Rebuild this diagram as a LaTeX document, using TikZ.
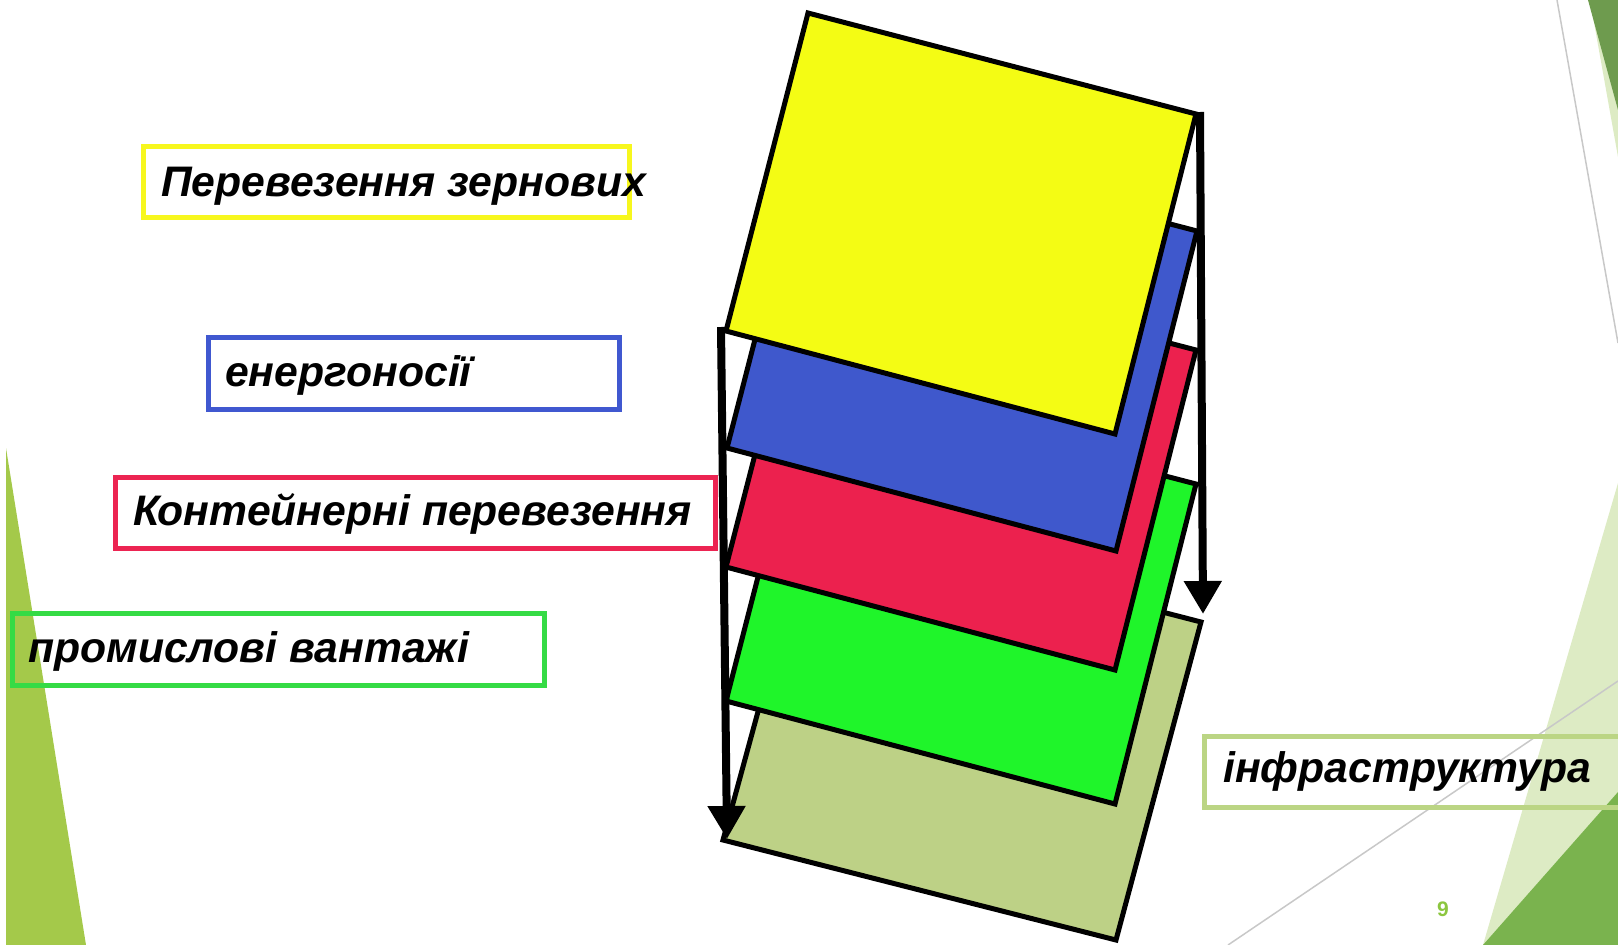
\documentclass[tikz,border=0pt]{standalone}
\usepackage{fontspec}
\setmainfont{Liberation Sans}
\usetikzlibrary{arrows.meta}
\definecolor{leftgreen}{HTML}{A4C94A}
\definecolor{palegreen}{HTML}{DDEBC4}
\definecolor{topdark}{HTML}{6E9B4E}
\definecolor{botdark}{HTML}{7AB34E}
\definecolor{linegray}{HTML}{C8C8C8}
\definecolor{pyellow}{HTML}{F4FC14}
\definecolor{pblue}{HTML}{3F58CC}
\definecolor{pred}{HTML}{EC214E}
\definecolor{pgreen}{HTML}{1FF52A}
\definecolor{polive}{HTML}{BDD186}
\definecolor{byellow}{HTML}{F7F71E}
\definecolor{bblue}{HTML}{4058D0}
\definecolor{bred}{HTML}{EC2452}
\definecolor{bgreen}{HTML}{35DB45}
\definecolor{bolive}{HTML}{BBD584}
\definecolor{pagenum}{HTML}{8CC63F}
\tikzset{
  plane/.style={draw=black, line width=5pt, line join=miter},
  labelbox/.style={draw=#1, line width=5pt, inner sep=0pt, anchor=north west},
  labeltext/.style={font=\fontsize{42.7}{50}\selectfont\bfseries\itshape, inner sep=0pt, anchor=base west},
  bigarrow/.style={line width=8pt, -{Triangle[width=36pt,length=33pt]}},
  grayline/.style={draw=linegray, line width=1.5pt}
}
\begin{document}
\begin{tikzpicture}[x=1pt,y=-1pt]
\useasboundingbox (0,0) rectangle (1618,945);
\clip (0,0) rectangle (1618,945);
% background decorations
\fill[leftgreen] (6,448) -- (86,945) -- (6,945) -- cycle;
\fill[palegreen] (1590,0) -- (1618,0) -- (1618,157) -- cycle;
\fill[topdark] (1588,0) -- (1618,0) -- (1618,110) -- cycle;
\draw[grayline] (1557,0) -- (1618,343);
\fill[palegreen] (1618,483) -- (1618,945) -- (1483,945) -- cycle;
\fill[botdark] (1483,945) -- (1618,945) -- (1618,792) -- cycle;
\draw[grayline] (1228,945) -- (1618,681);
% stacked planes (bottom to top)
\filldraw[plane, fill=polive] (810,521) -- (1201,622) -- (1116,940) -- (723,840) -- cycle;
\filldraw[plane, fill=pgreen] (808,383) -- (1196,484) -- (1115,804) -- (726,701) -- cycle;
\filldraw[plane, fill=pred] (808,249) -- (1196,350) -- (1115,670) -- (726,567) -- cycle;
\filldraw[plane, fill=pblue] (809,130) -- (1197,231) -- (1116,551) -- (727,448) -- cycle;
\filldraw[plane, fill=pyellow] (808,13) -- (1196,114) -- (1115,434) -- (726,331) -- cycle;
% arrows
\coordinate (la1) at (721,327);
\coordinate (la2) at (727,839);
\coordinate (ra1) at (1200,112);
\coordinate (ra2) at (1203,614);
\draw[bigarrow] (la1) -- (la2);
\draw[bigarrow] (ra1) -- (ra2);
% label boxes
\node[labelbox=byellow, minimum width=486pt, minimum height=71pt] (box1) at (140.5,144) {};
\node[labelbox=bblue, minimum width=411pt, minimum height=71.5pt] (box2) at (205.5,335) {};
\node[labelbox=bred, minimum width=600pt, minimum height=71pt] (box3) at (112.5,474.5) {};
\node[labelbox=bgreen, minimum width=532pt, minimum height=72pt] (box4) at (9.5,610.5) {};
\node[labelbox=bolive, minimum width=440pt, minimum height=71pt] (box5) at (1201.5,733.5) {};
% label texts
\node[labeltext] (t1) at (161,196) {Перевезення зернових};
\node[labeltext] (t2) at (225,386) {енергоносії};
\node[labeltext] (t3) at (133,525) {Контейнерні перевезення};
\node[labeltext] (t4) at (28,662) {промислові вантажі};
\node[labeltext] (t5) at (1223,782) {інфраструктура};
% page number
\node[font=\fontsize{21}{25}\selectfont\bfseries, text=pagenum, inner sep=0pt, anchor=base west] (pn) at (1437,916) {9};
\end{tikzpicture}
\end{document}
